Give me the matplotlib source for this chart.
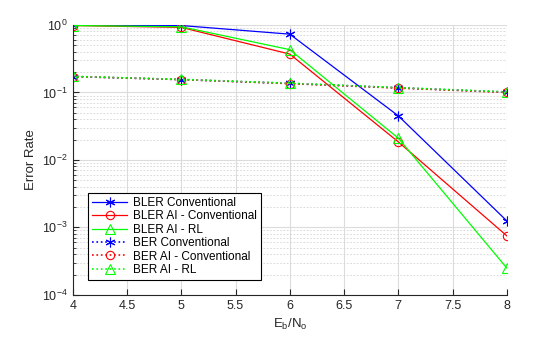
import matplotlib
matplotlib.use("Agg")
import matplotlib.pyplot as plt
from matplotlib.ticker import LogLocator, NullFormatter

plt.rcParams['font.family'] = ['Liberation Sans', 'DejaVu Sans']

# Eb/No points
ebno = [4, 5, 6, 7, 8]

# block error rate
bler_conv = [0.99, 0.98, 0.73, 0.045, 0.00125]
bler_ai_conv = [0.98, 0.92, 0.37, 0.0185, 0.00075]
bler_ai_rl = [0.98, 0.94, 0.43, 0.021, 0.00025]

# bit error rate
ber_conv = [0.172, 0.155, 0.136, 0.117, 0.101]
ber_ai_conv = [0.172, 0.155, 0.135, 0.116, 0.100]
ber_ai_rl = [0.173, 0.156, 0.137, 0.118, 0.102]

green = '#00ff00'
star = (6, 2, 0)  # matlab-like asterisk

fig = plt.figure(figsize=(5.6, 3.37), dpi=100)
ax = fig.add_axes([0.130, 0.125, 0.775, 0.801])

ax.semilogy(ebno, bler_conv, color='b', ls='-', marker=star, lw=0.9, ms=7, mew=0.8, label='BLER Conventional')
ax.semilogy(ebno, bler_ai_conv, color='r', ls='-', marker='o', lw=0.9, ms=6, mew=0.8, mfc='none', label='BLER AI - Conventional')
ax.semilogy(ebno, bler_ai_rl, color=green, ls='-', marker='^', lw=0.9, ms=7, mew=0.8, mfc='none', label='BLER AI - RL')
ax.semilogy(ebno, ber_conv, color='b', ls=':', marker=star, lw=1.2, ms=7, mew=0.8, label='BER Conventional')
ax.semilogy(ebno, ber_ai_conv, color='r', ls=':', marker='o', lw=1.2, ms=6, mew=0.8, mfc='none', label='BER AI - Conventional')
ax.semilogy(ebno, ber_ai_rl, color=green, ls=':', marker='^', lw=1.2, ms=7, mew=0.8, mfc='none', label='BER AI - RL')

ax.set_xlim(4, 8)
ax.set_ylim(1e-4, 1)
ax.set_xticks([4, 4.5, 5, 5.5, 6, 6.5, 7, 7.5, 8])
ax.set_xticklabels(['4', '4.5', '5', '5.5', '6', '6.5', '7', '7.5', '8'])
ax.yaxis.set_major_locator(LogLocator(base=10, numticks=10))
ax.yaxis.set_minor_locator(LogLocator(base=10, subs=range(2, 10), numticks=20))
ax.yaxis.set_minor_formatter(NullFormatter())

ax.grid(True, which='major', color='#dcdcdc', lw=0.8, ls='-')
ax.grid(True, which='minor', axis='y', color='#d4d4d4', lw=0.6, ls=(0, (2, 2)))
ax.set_axisbelow(True)

for s in ['top', 'right']:
    ax.spines[s].set_visible(False)
for s in ['left', 'bottom']:
    ax.spines[s].set_color('#262626')
    ax.spines[s].set_linewidth(0.8)

ax.tick_params(which='both', direction='in', labelsize=9, colors='#262626')
ax.tick_params(which='major', length=4)
ax.tick_params(which='minor', length=2)

ax.set_xlabel('E$_\\mathregular{b}$/N$_\\mathregular{o}$', fontsize=9.5, color='#262626')
ax.set_ylabel('Error Rate', fontsize=9.5, color='#262626')

leg = ax.legend(loc='lower left', fontsize=8.5, handlelength=3.0, borderpad=0.3,
                labelspacing=0.12, handletextpad=0.5, fancybox=False, framealpha=1,
                bbox_to_anchor=(0.022, 0.035))
leg.get_frame().set_edgecolor('black')
leg.get_frame().set_linewidth(0.8)

fig.savefig('out.png', dpi=100)
